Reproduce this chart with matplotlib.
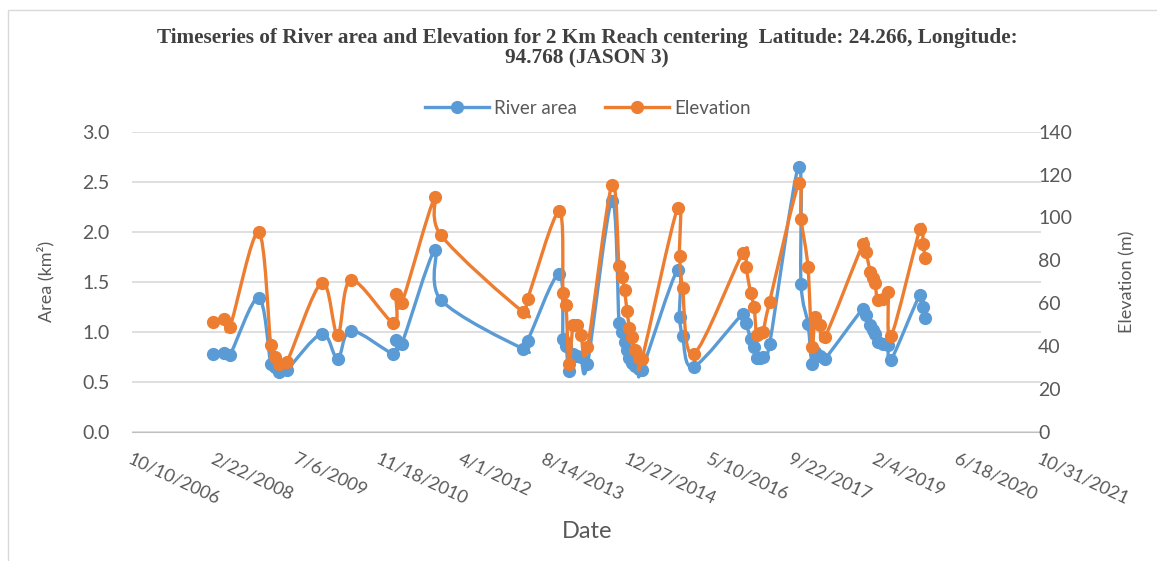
import numpy as np
import pandas as pd
import matplotlib
matplotlib.use("Agg")
import matplotlib.pyplot as plt
import matplotlib.dates as mdates
from matplotlib.path import Path
from matplotlib.patches import PathPatch, Rectangle
from matplotlib.lines import Line2D

# values
dates = ['2008-02-12', '2008-04-19', '2008-05-25', '2008-11-14', '2009-01-27',
         '2009-02-23', '2009-03-20', '2009-05-05', '2009-12-01', '2010-03-07',
         '2010-05-27', '2011-02-07', '2011-02-23', '2011-03-30', '2011-10-17',
         '2011-11-21', '2013-04-02', '2013-04-30', '2013-11-06', '2013-11-30',
         '2013-12-18', '2014-01-05', '2014-01-29', '2014-02-22', '2014-03-19',
         '2014-04-27', '2014-09-21', '2014-11-04', '2014-11-22', '2014-12-07',
         '2014-12-22', '2015-01-06', '2015-01-21', '2015-02-09', '2015-03-05',
         '2015-03-23', '2015-10-24', '2015-11-05', '2015-11-23', '2016-01-29',
         '2016-11-23', '2016-12-11', '2017-01-08', '2017-01-29', '2017-02-13',
         '2017-03-06', '2017-03-24', '2017-05-03', '2017-10-25', '2017-11-09',
         '2017-12-21', '2018-01-14', '2018-02-02', '2018-03-04', '2018-04-03',
         '2018-11-19', '2018-12-07', '2019-01-01', '2019-01-16', '2019-01-31',
         '2019-02-15', '2019-03-20', '2019-04-19', '2019-05-08', '2019-10-30',
         '2019-11-17', '2019-11-29']

river_area = [0.78, 0.79, 0.77, 1.34, 0.68, 0.65, 0.60, 0.62, 0.98, 0.73,
              1.01, 0.78, 0.92, 0.88, 1.82, 1.32, 0.83, 0.91, 1.58, 0.93,
              0.86, 0.61, 0.78, 0.76, 0.75, 0.68, 2.31, 1.09, 1.00, 0.90,
              0.82, 0.74, 0.69, 0.66, 0.63, 0.62, 1.62, 1.15, 0.96, 0.65,
              1.18, 1.09, 0.93, 0.85, 0.74, 0.74, 0.75, 0.88, 2.65, 1.48,
              1.08, 0.68, 0.80, 0.76, 0.73, 1.23, 1.17, 1.07, 1.02, 0.98,
              0.90, 0.88, 0.87, 0.72, 1.37, 1.25, 1.14]

elevation = [51.0, 52.4, 49.0, 93.0, 40.3, 35.0, 31.5, 32.7, 69.5, 45.3,
             70.8, 50.8, 64.2, 60.0, 109.5, 91.8, 56.0, 62.0, 102.8, 64.6,
             59.2, 31.5, 49.8, 50.0, 45.1, 39.5, 115.1, 77.3, 72.3, 66.1,
             56.5, 48.5, 44.3, 38.3, 34.5, 33.8, 104.5, 82.0, 66.9, 36.2,
             83.6, 77.0, 64.6, 58.3, 45.3, 45.9, 46.7, 60.7, 115.9, 99.3,
             76.7, 39.6, 53.5, 50.0, 44.3, 87.6, 84.0, 74.7, 71.6, 69.3,
             61.5, 62.0, 65.3, 44.5, 94.5, 87.7, 81.2]

tick_dates = pd.date_range('2006-10-10', periods=12, freq='500D')
area_ticks = [0.0, 0.5, 1.0, 1.5, 2.0, 2.5, 3.0]
elev_ticks = [0, 20, 40, 60, 80, 100, 120, 140]

BLUE = '#5B9BD5'
ORANGE = '#ED7D31'
TXT = '#595959'
GRID = '#D9D9D9'


def smooth_path(x, y):
    # excel style smoothed line (catmull-rom as cubic bezier)
    pts = np.column_stack([x, y])
    n = len(pts)
    verts = [pts[0]]
    codes = [Path.MOVETO]
    for i in range(n - 1):
        p0 = pts[i - 1] if i > 0 else pts[i]
        p1 = pts[i]
        p2 = pts[i + 1]
        p3 = pts[i + 2] if i + 2 < n else pts[i + 1]
        verts += [p1 + (p2 - p0) / 6, p2 - (p3 - p1) / 6, p2]
        codes += [Path.CURVE4] * 3
    return Path(verts, codes)


x = mdates.date2num(pd.to_datetime(dates))

fig = plt.figure(figsize=(11.57, 5.61), dpi=100)
W, H = 1157, 561
L, R, T, B = 132, 1041, 131.7, 431.7
ax = fig.add_axes([L / W, 1 - B / H, (R - L) / W, (B - T) / H])
ax2 = ax.twinx()

ax.add_patch(PathPatch(smooth_path(x, river_area), fill=False, ec=BLUE, lw=2.4,
                       capstyle='round', joinstyle='round', zorder=3))
ax.plot(x, river_area, 'o', ms=8.5, color=BLUE, zorder=4)
ax2.add_patch(PathPatch(smooth_path(x, elevation), fill=False, ec=ORANGE, lw=2.4,
                        capstyle='round', joinstyle='round', zorder=3))
ax2.plot(x, elevation, 'o', ms=8.5, color=ORANGE, zorder=4)

tx = mdates.date2num(tick_dates)
ax.set_xlim(tx[0], tx[-1])
ax.set_xticks(tx)
ax.set_xticklabels([f'{d.month}/{d.day}/{d.year}' for d in tick_dates],
                   rotation=-25, ha='left', va='top', rotation_mode='anchor',
                   fontsize=13, color=TXT, family='Lato')
ax.set_ylim(0, 3)
ax.set_yticks(area_ticks)
ax.set_yticklabels([f'{v:.1f}' for v in area_ticks], fontsize=14, color=TXT, family='Lato')
ax2.set_ylim(0, 140)
ax2.set_yticks(elev_ticks)
ax2.set_yticklabels([str(v) for v in elev_ticks], fontsize=14, color=TXT, family='Lato')

ax.grid(axis='y', color=GRID, lw=1.2)
ax.set_axisbelow(True)
for a in (ax, ax2):
    for s in a.spines.values():
        s.set_visible(False)
    a.tick_params(length=0)
ax.spines['bottom'].set_visible(True)
ax.spines['bottom'].set_color('#BFBFBF')
ax.tick_params(axis='x', pad=14)
ax.tick_params(axis='y', pad=16)
ax2.tick_params(axis='y', pad=-2)

ax.set_ylabel('Area (km²)', fontsize=13, color=TXT, family='Lato', labelpad=20)
ax2.set_ylabel('Elevation (m)', fontsize=13, color=TXT, family='Lato', labelpad=34)
fig.text(587 / W, 1 - 531 / H, 'Date', ha='center', va='center', fontsize=17,
         color=TXT, family='Lato')

fig.text(587 / W, 1 - 48 / H,
         'Timeseries of River area and Elevation for 2 Km Reach centering  Latitude: 24.266, Longitude:\n94.768 (JASON 3)',
         ha='center', va='center', fontsize=15.3, fontweight='bold', color='#404040',
         family='Liberation Serif', linespacing=1.05)

handles = [Line2D([], [], color=BLUE, lw=2.4, marker='o', ms=8.5),
           Line2D([], [], color=ORANGE, lw=2.4, marker='o', ms=8.5)]
fig.legend(handles, ['River area', 'Elevation'], loc='center', ncol=2,
           bbox_to_anchor=(588 / W, 1 - 108 / H), frameon=False,
           prop={'family': 'Lato', 'size': 13.5}, labelcolor=TXT,
           handlelength=3.4, columnspacing=1.5, handletextpad=0.3)

fig.patches.append(Rectangle((8 / W, -0.1), 1.2, 1 - 10 / H + 0.1, transform=fig.transFigure,
                             fill=False, ec='#D9D9D9', lw=1))

fig.savefig('out.png', dpi=100, facecolor='white')
